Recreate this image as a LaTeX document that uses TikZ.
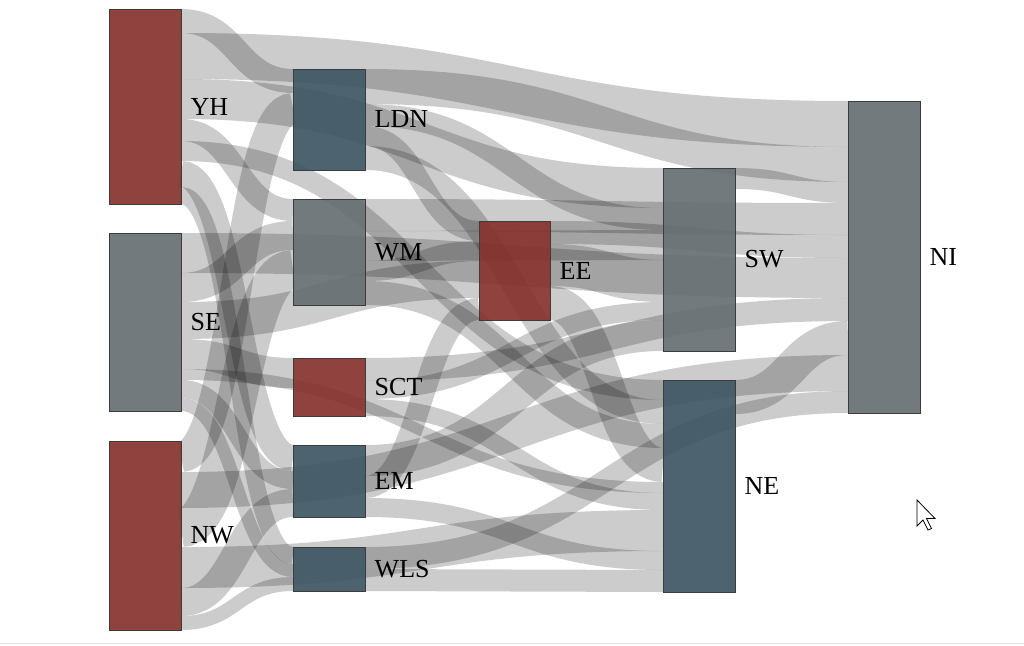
\documentclass[tikz,border=0pt]{standalone}
\usepackage{fontspec}
\setmainfont{Liberation Serif}
\usetikzlibrary{calc}
\pgfdeclarelayer{links}
\pgfsetlayers{links,main}
\definecolor{nred}{RGB}{133,46,43}
\definecolor{ngrey}{RGB}{99,108,112}
\definecolor{nblue}{RGB}{58,83,96}
\definecolor{nedge}{RGB}{60,60,60}
\tikzset{
  box/.style={draw=nedge, line width=1pt, fill opacity=0.9, inner sep=0pt, outer sep=0pt, anchor=north west, minimum width=72pt},
  lab/.style={anchor=west, inner sep=0pt, font=\rmfamily\fontsize{26}{30}\selectfont, text=black},
  link/.style={draw=black, draw opacity=0.2, line cap=butt}
}
\newcommand\lk[5]{%
  \path (#1.north east) ++(0,#2) coordinate (ls) (#3.north west) ++(0,#4) coordinate (lt);
  \path ($(ls)!0.5!(lt)$) coordinate (lm);
  \draw[link, line width=#5pt] (ls) .. controls (lm |- ls) and (lm |- lt) .. (lt);
}
\begin{document}
\begin{tikzpicture}[x=1pt,y=-1pt]
\useasboundingbox (0,0) rectangle (1024,645);
% nodes
\node[box, fill=nred,  minimum height=195pt] (YH)  at (109,9)   {};
\node[box, fill=ngrey, minimum height=178pt] (SE)  at (109,233) {};
\node[box, fill=nred,  minimum height=189pt] (NW)  at (109,441) {};
\node[box, fill=nblue, minimum height=101pt] (LDN) at (293,69)  {};
\node[box, fill=ngrey, minimum height=106pt] (WM)  at (293,199) {};
\node[box, fill=nred,  minimum height=58pt]  (SCT) at (293,358) {};
\node[box, fill=nblue, minimum height=72pt]  (EM)  at (293,445) {};
\node[box, fill=nblue, minimum height=44pt]  (WLS) at (293,547) {};
\node[box, fill=nred,  minimum height=99pt, minimum width=71pt] (EE) at (479,221) {};
\node[box, fill=ngrey, minimum height=183pt] (SW)  at (663,168) {};
\node[box, fill=nblue, minimum height=212pt] (NE)  at (663,380) {};
\node[box, fill=ngrey, minimum height=312pt] (NI)  at (848,101) {};
% labels
\foreach \n in {YH,SE,NW,LDN,WM,SCT,EM,WLS,EE,SW,NE,NI}{
  \node[lab] (l\n) at ([xshift=9.5pt]\n.east) {\n};
}
% links
\begin{pgfonlayer}{links}
\fill[white] (0,0) rectangle (1024,645);
\draw[gray!25, line width=1.5pt] (0,643.5) -- (1024,643.5);
\lk{YH}{12}{LDN}{12}{24}
\lk{YH}{47}{NI}{23}{46}
\lk{YH}{90}{SW}{20}{40}
\lk{YH}{121}{WM}{11}{22}
\lk{YH}{142}{NE}{10}{20}
\lk{YH}{165}{EM}{13}{26}
\lk{YH}{186.5}{WLS}{8.5}{17}
\lk{SE}{20}{NI}{177}{40}
\lk{SE}{54.5}{WM}{36.5}{29}
\lk{SE}{87.5}{EE}{58.5}{37}
\lk{SE}{121}{SCT}{15}{30}
\lk{SE}{141.5}{NE}{107.5}{11}
\lk{SE}{156}{EM}{35}{18}
\lk{SE}{171.5}{WLS}{23.5}{13}
\lk{NW}{15.5}{LDN}{39.5}{31}
\lk{NW}{49}{NI}{272}{36}
\lk{NW}{86.5}{WM}{70.5}{39}
\lk{NW}{126.5}{NE}{150.5}{41}
\lk{NW}{161}{EM}{58}{28}
\lk{NW}{182}{WLS}{37}{14}
\lk{LDN}{17.5}{NI}{63.5}{35}
\lk{LDN}{46}{SW}{51}{22}
\lk{LDN}{67}{EE}{10}{20}
\lk{LDN}{89}{NE}{32}{24}
\lk{WM}{16}{NI}{118}{32}
\lk{WM}{47}{SW}{77}{30}
\lk{WM}{72}{EE}{30}{20}
\lk{WM}{94}{NE}{56}{24}
\lk{SCT}{11.5}{NI}{208.5}{23}
\lk{SCT}{32}{SW}{143}{18}
\lk{SCT}{49.5}{NE}{121.5}{17}
\lk{EM}{15.5}{SW}{167.5}{31}
\lk{EM}{42}{EE}{88}{22}
\lk{EM}{62.5}{NE}{180.5}{19}
\lk{WLS}{11}{NI}{301}{22}
\lk{WLS}{33}{NE}{201}{22}
\lk{EE}{11.5}{NI}{145.5}{23}
\lk{EE}{44}{SW}{113}{42}
\lk{EE}{82}{NE}{85}{34}
\lk{SW}{10.5}{NI}{91.5}{21}
\lk{NE}{17}{NI}{237}{34}
\end{pgfonlayer}
% mouse pointer
\draw[black, fill=white, line width=0.8pt, line join=miter]
  (917,500) coordinate (cur) -- (917,526) -- (923,520) -- (928,530) -- (931.5,528.5) -- (926.5,518.5) -- (935,518.5) -- cycle;
\end{tikzpicture}
\end{document}
